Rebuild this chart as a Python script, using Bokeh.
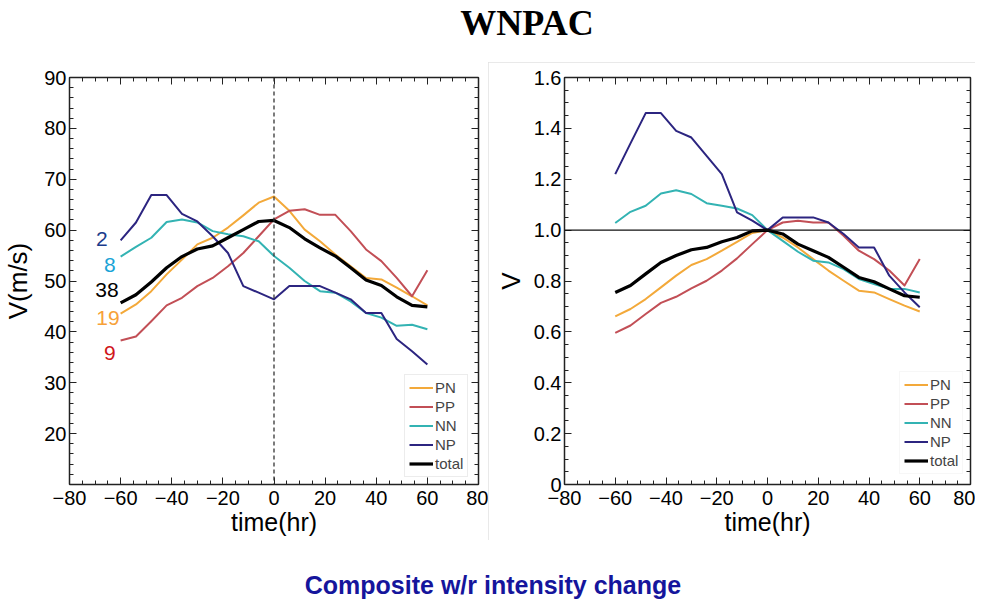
from bokeh.plotting import figure
from bokeh.models import (LinearAxis, FixedTicker, SingleIntervalTicker, Span, Legend,
                          LegendItem, Div, ColumnDataSource, Range1d, CustomJSTickFormatter,
                          PrintfTickFormatter)
from bokeh.layouts import column, row
from bokeh.embed import file_html
from bokeh.resources import INLINE
from bokeh.core.properties import value

# ---------------- data ----------------
time_hr = [-60, -54, -48, -42, -36, -30, -24, -18, -12, -6, 0,
           6, 12, 18, 24, 30, 36, 42, 48, 54, 60]

# left panel: V (m/s)
v_PN = [43.6, 45.4, 48.0, 51.3, 54.2, 57.2, 58.5, 60.5, 62.9, 65.4, 66.6,
        63.8, 60.1, 57.8, 55.2, 52.9, 50.6, 50.3, 48.7, 47.0, 45.2]
v_PP = [38.3, 39.1, 42.1, 45.2, 46.7, 49.0, 50.6, 52.9, 55.5, 58.8, 62.1,
        63.8, 64.1, 63.0, 63.0, 59.8, 56.2, 53.9, 50.6, 47.0, 52.1]
v_NN = [54.8, 56.7, 58.5, 61.6, 62.1, 61.5, 59.8, 59.2, 58.8, 57.8, 54.9,
        52.6, 50.0, 48.0, 47.7, 46.0, 43.7, 42.8, 41.2, 41.4, 40.5]
v_NP = [58.0, 61.5, 66.9, 66.9, 63.2, 61.7, 58.8, 55.5, 49.0, 47.7, 46.4,
        49.0, 49.0, 49.0, 47.7, 46.4, 43.7, 43.7, 38.6, 36.2, 33.6]
v_total = [45.7, 47.3, 49.8, 52.6, 54.8, 56.3, 56.9, 58.5, 60.1, 61.7, 61.9,
           60.5, 58.3, 56.5, 54.9, 52.6, 50.2, 49.1, 46.9, 45.2, 44.9]

# right panel: normalised V
n_PN = [0.661, 0.690, 0.729, 0.775, 0.821, 0.863, 0.886, 0.919, 0.954, 0.989, 1.0,
        0.971, 0.932, 0.886, 0.841, 0.801, 0.762, 0.755, 0.729, 0.703, 0.680]
n_PP = [0.596, 0.625, 0.670, 0.714, 0.738, 0.771, 0.801, 0.841, 0.889, 0.945, 1.0,
        1.030, 1.037, 1.030, 1.030, 0.978, 0.919, 0.886, 0.841, 0.782, 0.886]
n_NN = [1.028, 1.072, 1.096, 1.144, 1.157, 1.142, 1.106, 1.096, 1.085, 1.059, 1.0,
        0.958, 0.915, 0.880, 0.873, 0.847, 0.808, 0.788, 0.769, 0.769, 0.755]
n_NP = [1.220, 1.341, 1.460, 1.460, 1.390, 1.364, 1.292, 1.220, 1.070, 1.037, 1.0,
        1.050, 1.050, 1.050, 1.030, 0.985, 0.932, 0.932, 0.821, 0.755, 0.697]
n_total = [0.755, 0.782, 0.828, 0.873, 0.900, 0.923, 0.932, 0.954, 0.971, 0.997, 1.0,
           0.985, 0.945, 0.919, 0.893, 0.854, 0.814, 0.797, 0.769, 0.742, 0.736]

series_names = ["PN", "PP", "NN", "NP", "total"]
case_counts = ["2", "8", "38", "19", "9"]          # counts for NP, NN, total, PN, PP
count_series = ["NP", "NN", "total", "PN", "PP"]

left_yticks = [20, 30, 40, 50, 60, 70, 80, 90]

# ---------------- styles ----------------
COLORS = {"PN": "#F3A93A", "PP": "#C24F56", "NN": "#33B3B3", "NP": "#2C2580", "total": "#000000"}
WIDTHS = {"PN": 2, "PP": 2, "NN": 2, "NP": 2, "total": 3.2}
COUNT_COLORS = ["#1A3C8C", "#1AA3D6", "#000000", "#F7A138", "#D0161B"]
COUNT_DX = [-13, -5, -2, -1, -5]
COUNT_DY = [-1, 8, -13, 4, 12]
FONT = "Liberation Sans"


def style_axis(ax, labels=True):
    ax.axis_line_color = "#222222"
    ax.axis_line_width = 1.5
    ax.major_tick_in = 7
    ax.major_tick_out = 0
    ax.minor_tick_in = 4
    ax.minor_tick_out = 0
    ax.major_tick_line_color = "#222222"
    ax.minor_tick_line_color = "#222222"
    ax.major_label_text_font = FONT
    ax.major_label_text_color = "#000000"
    ax.axis_label_text_font = FONT
    ax.axis_label_text_font_style = "normal"
    ax.axis_label_text_color = "#000000"
    if labels:
        ax.major_label_text_font_size = "20px"
    else:
        ax.formatter = CustomJSTickFormatter(code="return '';")
        ax.major_label_text_font_size = "1px"
        ax.major_label_standoff = 0


def make_panel(ydata, y_range, yticker, ylabel, fw, border_left, border_right, ylab_standoff):
    p = figure(frame_width=fw, frame_height=407, x_range=Range1d(-80, 80), y_range=y_range,
               output_backend="svg", toolbar_location=None,
               min_border_left=border_left, min_border_right=border_right,
               min_border_top=15, min_border_bottom=56)
    p.grid.visible = False
    p.outline_line_color = None
    p.background_fill_color = "#ffffff"
    p.border_fill_color = "#ffffff"

    xt = SingleIntervalTicker(interval=20, num_minor_ticks=4)
    p.xaxis[0].ticker = xt
    p.yaxis[0].ticker = yticker
    style_axis(p.xaxis[0])
    style_axis(p.yaxis[0])
    p.xaxis[0].major_label_standoff = 6
    p.yaxis[0].major_label_standoff = 3
    p.xaxis[0].axis_label = "time(hr)"
    p.xaxis[0].axis_label_text_font_size = "25px"
    p.xaxis[0].axis_label_standoff = 0
    p.yaxis[0].axis_label = ylabel
    p.yaxis[0].axis_label_text_font_size = "26px"
    p.yaxis[0].axis_label_standoff = ylab_standoff

    top = LinearAxis(ticker=SingleIntervalTicker(interval=20, num_minor_ticks=4))
    style_axis(top, labels=False)
    p.add_layout(top, "above")
    right = LinearAxis(ticker=yticker)
    style_axis(right, labels=False)
    p.add_layout(right, "right")

    items = []
    for name in series_names:
        r = p.line(time_hr, ydata[name], line_color=COLORS[name], line_width=WIDTHS[name],
                   line_join="round")
        items.append(LegendItem(label=name, renderers=[r]))
    return p, items


def style_legend(lg, border):
    lg.label_text_font = FONT
    lg.label_text_font_size = "15px"
    lg.glyph_width = 24
    lg.glyph_height = 15
    lg.label_height = 15
    lg.label_standoff = 2
    lg.spacing = 2
    lg.padding = 4
    lg.margin = 0
    lg.border_line_color = border
    lg.background_fill_color = "#ffffff"
    lg.background_fill_alpha = 1


# ---------------- left panel ----------------
left_data = {"PN": v_PN, "PP": v_PP, "NN": v_NN, "NP": v_NP, "total": v_total}
yt1 = FixedTicker(ticks=left_yticks, minor_ticks=list(range(10, 91, 2)))
p1, items1 = make_panel(left_data, Range1d(10, 90), yt1, "V(m/s)", 409, 60, 10, 8)
p1.add_layout(Span(location=0, dimension="height", line_color="#333333",
                   line_dash="4 3", line_width=1.3))
lg1 = Legend(items=items1, location=(335, 7))
style_legend(lg1, "#d9d9d9")
p1.add_layout(lg1)

cnt_src = ColumnDataSource(dict(
    x=[time_hr[0]] * len(case_counts),
    y=[left_data[s][0] for s in count_series],
    text=case_counts, color=COUNT_COLORS, dx=COUNT_DX, dy=COUNT_DY))
p1.text(x="x", y="y", text="text", source=cnt_src, text_color="color",
        x_offset="dx", y_offset="dy", text_align="right", text_baseline="middle",
        text_font=value(FONT), text_font_size="21px")

# ---------------- right panel ----------------
right_data = {"PN": n_PN, "PP": n_PP, "NN": n_NN, "NP": n_NP, "total": n_total}
yt2 = SingleIntervalTicker(interval=0.2, num_minor_ticks=4)
p2, items2 = make_panel(right_data, Range1d(0, 1.6), yt2, "V", 406, 76, 5, 5)
p2.yaxis[0].formatter = PrintfTickFormatter(format="%.1f")
p2.yaxis[0].major_label_overrides = {0: "0"}
p2.add_layout(Span(location=1.0, dimension="width", line_color="#111111", line_width=1.3))
lg2 = Legend(items=items2, location=(335, 10))
style_legend(lg2, "#f0f0f0")
p2.add_layout(lg2)
p2.styles = {"outline": "1px solid #e2e2e2", "outline-offset": "-1px"}

# ---------------- titles ----------------
title = Div(text='<div style="width:966px;box-sizing:border-box;font-family:\'Liberation Serif\';'
                 'font-weight:bold;font-size:36px;line-height:36px;text-align:center;'
                 'padding-left:88px;padding-top:5px;color:#000;">WNPAC</div>',
            width=966, height=62, margin=(0, 0, 0, 0))
caption = Div(text='<div style="width:966px;box-sizing:border-box;font-family:\'Liberation Sans\';'
                   'font-weight:bold;font-size:25px;line-height:25px;text-align:center;'
                   'padding-left:20px;padding-top:33px;color:#15159C;">'
                   'Composite w/r intensity change</div>',
              width=966, height=60, margin=(0, 0, 0, 0), styles={"overflow": "hidden"})

layout = column(title, row(p1, p2, spacing=0), caption, spacing=0)

open("out.html", "w").write(file_html(layout, INLINE))
